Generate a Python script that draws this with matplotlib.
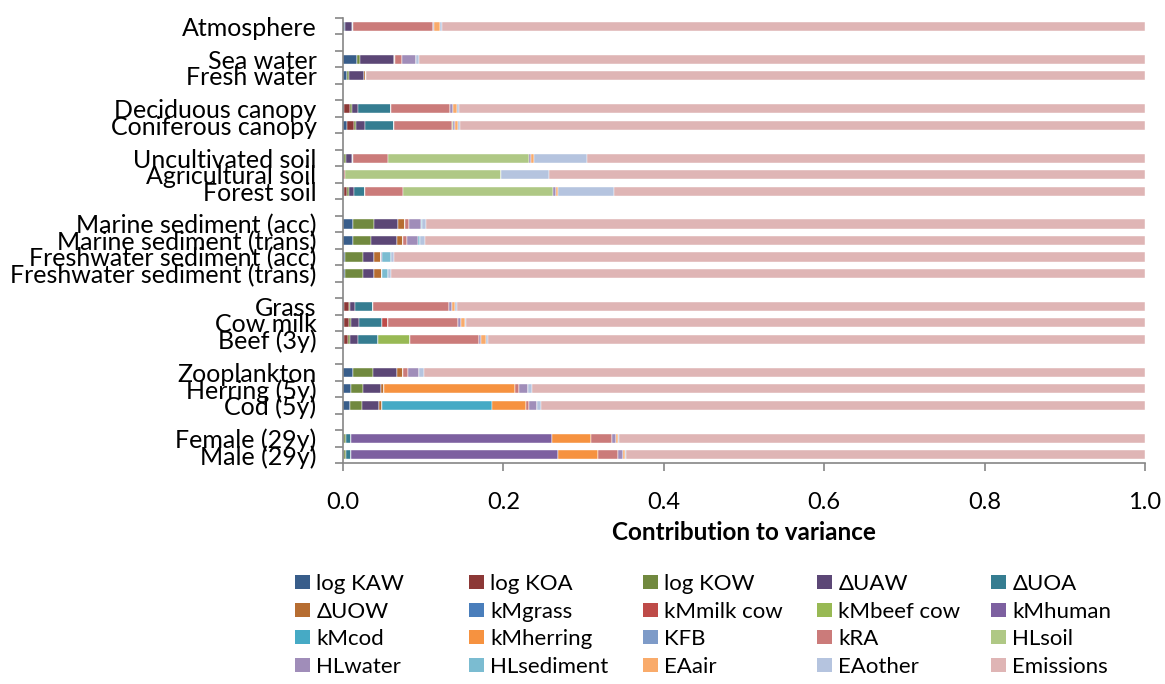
import matplotlib
matplotlib.use('Agg')
import matplotlib.pyplot as plt
from matplotlib.patches import Patch
import numpy as np

plt.rcParams['font.family'] = ['Lato', 'DejaVu Sans']

# groups of compartments, top to bottom (a blank row between groups)
groups = [
    ['Atmosphere'],
    ['Sea water', 'Fresh water'],
    ['Deciduous canopy', 'Coniferous canopy'],
    ['Uncultivated soil', 'Agricultural soil', 'Forest soil'],
    ['Marine sediment (acc)', 'Marine sediment (trans)',
     'Freshwater sediment (acc)', 'Freshwater sediment (trans)'],
    ['Grass', 'Cow milk', 'Beef (3y)'],
    ['Zooplankton', 'Herring (5y)', 'Cod (5y)'],
    ['Female (29y)', 'Male (29y)'],
]

params = ['log KAW', 'log KOA', 'log KOW', 'ΔUAW', 'ΔUOA', 'ΔUOW', 'kMgrass',
          'kMmilk cow', 'kMbeef cow', 'kMhuman', 'kMcod', 'kMherring', 'KFB',
          'kRA', 'HLsoil', 'HLwater', 'HLsediment', 'EAair', 'EAother', 'Emissions']

colors = ['#385D8A', '#8C3836', '#71893F', '#5C4776', '#357D91', '#B66D31',
          '#4A7EBB', '#BE4B48', '#98B954', '#7D60A0', '#46AAC5', '#F69240',
          '#7E9BC8', '#CB7B7A', '#AFC885', '#A08DB9', '#7BBCD1', '#F9AB6B',
          '#B5C4DF', '#DFB5B5']

# values per row, same order as the labels in groups
log_kaw = [0.002, 0.0175, 0.005, 0.0017, 0.0046, 0.001, 0.0, 0.0017, 0.0125, 0.0125,
           0.002, 0.002, 0.0017, 0.0017, 0.0017, 0.0125, 0.010, 0.0091, 0.001, 0.001]
log_koa = [0, 0, 0, 0.0075, 0.0087, 0, 0, 0.003, 0, 0,
           0, 0, 0.0062, 0.0062, 0.005, 0, 0, 0, 0, 0]
log_kow = [0, 0.0042, 0.003, 0.0025, 0.0025, 0.003, 0, 0.003, 0.0266, 0.0229,
           0.0229, 0.0229, 0.001, 0.0017, 0.0025, 0.0245, 0.0145, 0.0145, 0.003, 0.003]
d_uaw = [0.009, 0.042, 0.0187, 0.0075, 0.012, 0.007, 0, 0.0054, 0.0295, 0.0324,
         0.0133, 0.0137, 0.0058, 0.0108, 0.010, 0.0303, 0.0233, 0.0212, 0, 0]
d_uoa = [0.001, 0, 0, 0.0407, 0.0353, 0.001, 0, 0.0141, 0, 0,
         0, 0, 0.0233, 0.0287, 0.025, 0, 0, 0, 0.0058, 0.0058]
d_uow = [0, 0.0015, 0.0017, 0, 0, 0, 0, 0, 0.0087, 0.0066,
         0.0096, 0.010, 0, 0, 0, 0.0079, 0.0033, 0.0037, 0, 0]
km_grass = [0] * 20
km_milk = [0, 0, 0, 0, 0, 0, 0, 0, 0, 0,
           0, 0, 0, 0.0071, 0, 0, 0, 0, 0, 0]
km_beef = [0, 0, 0, 0, 0, 0, 0, 0, 0, 0,
           0, 0, 0, 0, 0.0395, 0, 0, 0, 0, 0]
km_human = [0, 0, 0, 0, 0, 0, 0, 0, 0, 0,
            0, 0, 0, 0, 0, 0, 0, 0, 0.2505, 0.2585]
km_cod = [0, 0, 0, 0, 0, 0, 0, 0, 0, 0,
          0, 0, 0, 0, 0, 0, 0, 0.1376, 0, 0]
km_herring = [0, 0, 0, 0, 0, 0, 0, 0, 0, 0,
              0, 0, 0, 0, 0, 0, 0.1637, 0.0416, 0.049, 0.0495]
kfb = [0] * 20
kra = [0.100, 0.0087, 0, 0.0735, 0.0723, 0.0436, 0.0025, 0.0482, 0.005, 0.0054,
       0, 0, 0.094, 0.0873, 0.0856, 0.0058, 0.0042, 0.0037, 0.0262, 0.0254]
hl_soil = [0, 0, 0, 0, 0.002, 0.176, 0.1945, 0.187, 0, 0,
           0, 0, 0, 0, 0, 0, 0, 0, 0, 0]
hl_water = [0.002, 0.0166, 0, 0.004, 0.002, 0.0033, 0, 0.003, 0.0146, 0.0137,
            0.001, 0, 0.0033, 0.0033, 0.003, 0.0137, 0.0116, 0.0104, 0.005, 0.006]
hl_sediment = [0, 0, 0, 0, 0, 0, 0, 0, 0.002, 0.0025,
               0.011, 0.0075, 0, 0, 0, 0, 0, 0, 0, 0]
ea_air = [0.007, 0, 0, 0.005, 0.004, 0.003, 0, 0.0025, 0, 0,
          0, 0, 0.0046, 0.0058, 0.0054, 0, 0, 0, 0.003, 0.0025]
ea_other = [0.002, 0.0046, 0, 0.002, 0.0025, 0.066, 0.06, 0.0694, 0.0046, 0.0062,
            0.004, 0.0037, 0.0025, 0.001, 0.0025, 0.0058, 0.005, 0.0046, 0.001, 0.0017]
emissions = [0.877, 0.9049, 0.9716, 0.8556, 0.8541, 0.6961, 0.743, 0.6627, 0.8965, 0.8978,
             0.9362, 0.9402, 0.8576, 0.8464, 0.8198, 0.8995, 0.7644, 0.7536, 0.6555, 0.6466]

series = [log_kaw, log_koa, log_kow, d_uaw, d_uoa, d_uow, km_grass, km_milk, km_beef,
          km_human, km_cod, km_herring, kfb, kra, hl_soil, hl_water, hl_sediment,
          ea_air, ea_other, emissions]

# slot positions with a blank slot between groups
labels, pos = [], []
slot = 0
for g in groups:
    for name in g:
        labels.append(name)
        pos.append(slot)
        slot += 1
    slot += 1
nslots = slot - 1
pos = np.array(pos)

fig = plt.figure(figsize=(11.65, 6.84), dpi=100)
ax = fig.add_axes([343 / 1165, 1 - 463 / 684, 802 / 1165, 445 / 684])

left = np.zeros(len(labels))
for vals, c in zip(series, colors):
    vals = np.array(vals, dtype=float)
    ax.barh(pos, vals, left=left, height=0.55, color=c, edgecolor='white', linewidth=0.3)
    left += vals

ax.set_ylim(nslots - 0.5, -0.5)
ax.set_xlim(0, 1)
ax.set_yticks(pos)
ax.set_yticklabels(labels, fontsize=18)
ax.set_yticks(np.arange(-0.5, nslots, 1), minor=True)
ax.tick_params(axis='y', which='major', length=0, pad=19)
ax.tick_params(axis='y', which='minor', length=6, color='#868686', width=1.2)
ax.set_xticks(np.arange(0, 1.01, 0.2))
ax.set_xticklabels(['%.1f' % v for v in np.arange(0, 1.01, 0.2)], fontsize=17)
ax.tick_params(axis='x', length=6, color='#868686', width=1.2, pad=15)
for s in ['top', 'right']:
    ax.spines[s].set_visible(False)
for s in ['left', 'bottom']:
    ax.spines[s].set_color('#868686')
    ax.spines[s].set_linewidth(1.2)
ax.set_xlabel('Contribution to variance', fontsize=17.5, fontweight='bold', labelpad=6)

# legend: 5 columns, filled row by row like Excel
handles = [Patch(facecolor=c, edgecolor='none') for c in colors]
col_x = [295, 469, 643, 817, 991]
for c in range(5):
    idx = [r * 5 + c for r in range(4)]
    leg = fig.legend([handles[i] for i in idx], [params[i] for i in idx],
                     loc='upper left', bbox_to_anchor=(col_x[c] / 1165, 1 - 574 / 684),
                     frameon=False, fontsize=16, handlelength=0.68, handleheight=0.6,
                     handletextpad=0.28, labelspacing=0.34, borderpad=0, borderaxespad=0)

fig.savefig('out.png', dpi=100)
